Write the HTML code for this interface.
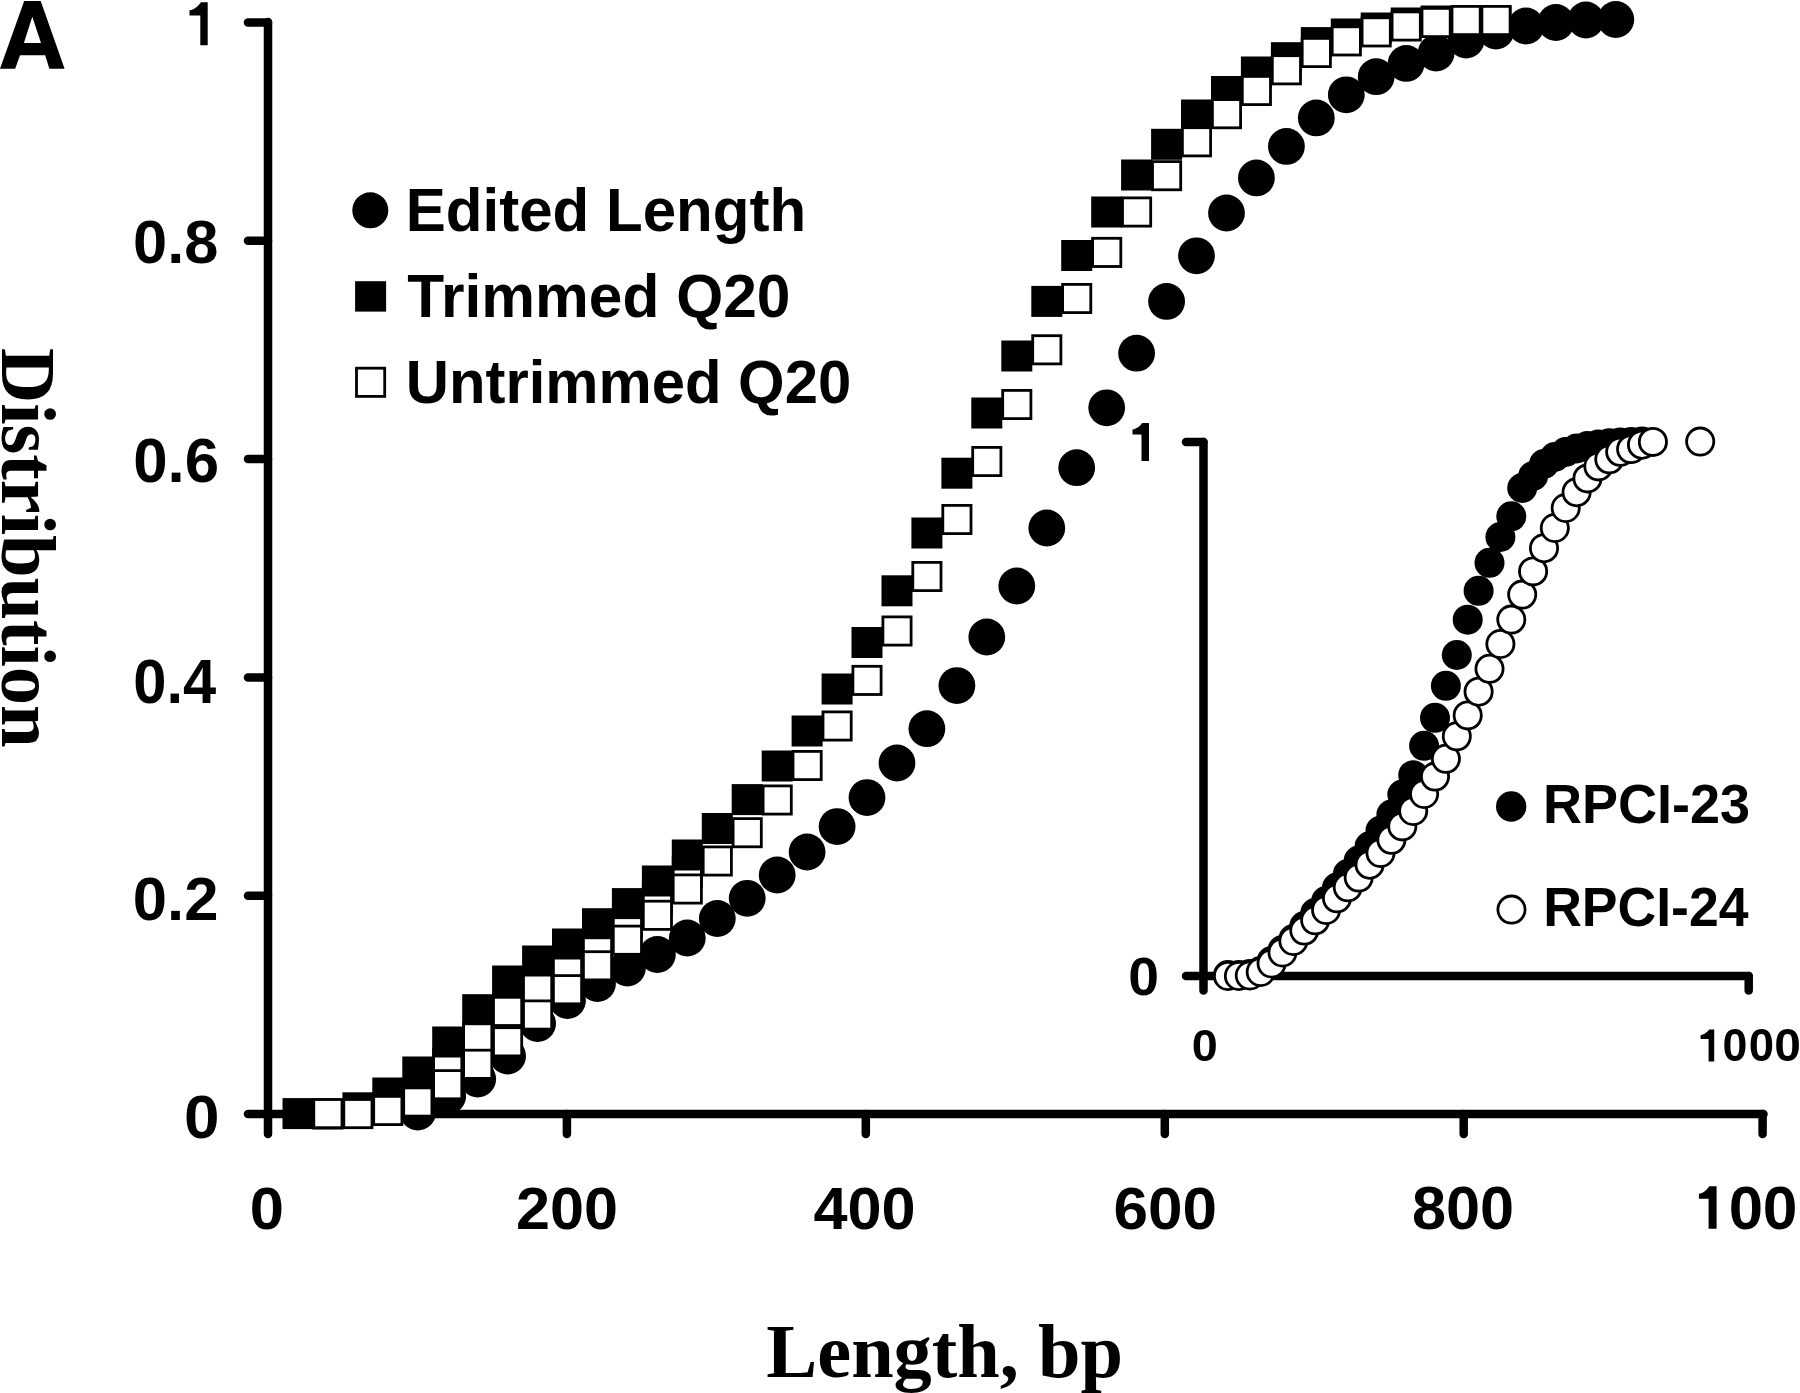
<!DOCTYPE html>
<html><head><meta charset="utf-8"><title>Length distribution</title>
<style>html,body{margin:0;padding:0;background:#fff;overflow:hidden}svg{display:block}text{-webkit-font-smoothing:antialiased}</style></head>
<body><svg style="will-change:transform" width="1800" height="1393" viewBox="0 0 1800 1393">
<rect width="1800" height="1393" fill="#fff"/>
<g stroke="#000" stroke-width="8.5" stroke-linecap="round" fill="none">
<line x1="268" y1="22" x2="268" y2="1134"/>
<line x1="248" y1="1114" x2="1763.5" y2="1114"/>
<line x1="248" y1="895.7" x2="268" y2="895.7"/>
<line x1="248" y1="677.4" x2="268" y2="677.4"/>
<line x1="248" y1="459.1" x2="268" y2="459.1"/>
<line x1="248" y1="240.8" x2="268" y2="240.8"/>
<line x1="248" y1="22.5" x2="268" y2="22.5"/>
<line x1="566.9" y1="1114" x2="566.9" y2="1134"/>
<line x1="865.8" y1="1114" x2="865.8" y2="1134"/>
<line x1="1164.8" y1="1114" x2="1164.8" y2="1134"/>
<line x1="1463.7" y1="1114" x2="1463.7" y2="1134"/>
<line x1="1762.6" y1="1114" x2="1762.6" y2="1134"/>
</g>
<circle cx="417.8" cy="1112.0" r="18.4"/>
<circle cx="447.7" cy="1096.0" r="18.4"/>
<circle cx="477.7" cy="1079.0" r="18.4"/>
<circle cx="507.6" cy="1056.0" r="18.4"/>
<circle cx="537.6" cy="1023.5" r="18.4"/>
<circle cx="567.5" cy="1000.5" r="18.4"/>
<circle cx="597.5" cy="983.5" r="18.4"/>
<circle cx="627.4" cy="968.0" r="18.4"/>
<circle cx="657.4" cy="954.5" r="18.4"/>
<circle cx="687.3" cy="938.0" r="18.4"/>
<circle cx="717.3" cy="918.5" r="18.4"/>
<circle cx="747.2" cy="898.3" r="18.4"/>
<circle cx="777.2" cy="875.0" r="18.4"/>
<circle cx="807.1" cy="852.0" r="18.4"/>
<circle cx="837.1" cy="826.6" r="18.4"/>
<circle cx="867.0" cy="797.6" r="18.4"/>
<circle cx="897.0" cy="763.0" r="18.4"/>
<circle cx="926.9" cy="728.7" r="18.4"/>
<circle cx="956.9" cy="685.6" r="18.4"/>
<circle cx="986.8" cy="637.0" r="18.4"/>
<circle cx="1016.8" cy="586.0" r="18.4"/>
<circle cx="1046.8" cy="528.0" r="18.4"/>
<circle cx="1076.7" cy="467.7" r="18.4"/>
<circle cx="1106.7" cy="407.8" r="18.4"/>
<circle cx="1136.6" cy="353.2" r="18.4"/>
<circle cx="1166.6" cy="301.4" r="18.4"/>
<circle cx="1196.5" cy="255.8" r="18.4"/>
<circle cx="1226.5" cy="213.0" r="18.4"/>
<circle cx="1256.4" cy="177.9" r="18.4"/>
<circle cx="1286.4" cy="146.4" r="18.4"/>
<circle cx="1316.3" cy="117.9" r="18.4"/>
<circle cx="1346.3" cy="94.8" r="18.4"/>
<circle cx="1376.2" cy="76.7" r="18.4"/>
<circle cx="1406.2" cy="63.4" r="18.4"/>
<circle cx="1436.1" cy="53.0" r="18.4"/>
<circle cx="1466.1" cy="40.0" r="18.4"/>
<circle cx="1496.0" cy="31.0" r="18.4"/>
<circle cx="1526.0" cy="26.0" r="18.4"/>
<circle cx="1555.9" cy="22.5" r="18.4"/>
<circle cx="1585.9" cy="20.0" r="18.4"/>
<circle cx="1615.8" cy="19.5" r="18.4"/>
<rect x="433.6" y="1049.2" width="28.2" height="28.2" fill="#fff" stroke="#000" stroke-width="2.8"/>
<rect x="463.6" y="1022.9" width="28.2" height="28.2" fill="#fff" stroke="#000" stroke-width="2.8"/>
<rect x="493.5" y="997.3" width="28.2" height="28.2" fill="#fff" stroke="#000" stroke-width="2.8"/>
<rect x="523.5" y="973.9" width="28.2" height="28.2" fill="#fff" stroke="#000" stroke-width="2.8"/>
<rect x="553.4" y="952.8" width="28.2" height="28.2" fill="#fff" stroke="#000" stroke-width="2.8"/>
<rect x="583.4" y="930.6" width="28.2" height="28.2" fill="#fff" stroke="#000" stroke-width="2.8"/>
<rect x="613.3" y="907.8" width="28.2" height="28.2" fill="#fff" stroke="#000" stroke-width="2.8"/>
<rect x="643.3" y="884.0" width="28.2" height="28.2" fill="#fff" stroke="#000" stroke-width="2.8"/>
<rect x="673.2" y="857.9" width="28.2" height="28.2" fill="#fff" stroke="#000" stroke-width="2.8"/>
<rect x="282.5" y="1098.1" width="31.0" height="31.0"/>
<rect x="312.4" y="1098.5" width="31.0" height="31.0"/>
<rect x="342.4" y="1092.3" width="31.0" height="31.0"/>
<rect x="372.3" y="1077.5" width="31.0" height="31.0"/>
<rect x="402.3" y="1056.5" width="31.0" height="31.0"/>
<rect x="432.2" y="1026.5" width="31.0" height="31.0"/>
<rect x="462.2" y="994.2" width="31.0" height="31.0"/>
<rect x="492.1" y="965.5" width="31.0" height="31.0"/>
<rect x="522.1" y="945.5" width="31.0" height="31.0"/>
<rect x="552.0" y="928.5" width="31.0" height="31.0"/>
<rect x="582.0" y="908.2" width="31.0" height="31.0"/>
<rect x="611.9" y="888.1" width="31.0" height="31.0"/>
<rect x="641.9" y="865.5" width="31.0" height="31.0"/>
<rect x="671.8" y="839.5" width="31.0" height="31.0"/>
<rect x="701.8" y="813.0" width="31.0" height="31.0"/>
<rect x="731.7" y="784.1" width="31.0" height="31.0"/>
<rect x="761.7" y="750.5" width="31.0" height="31.0"/>
<rect x="791.6" y="715.5" width="31.0" height="31.0"/>
<rect x="821.6" y="673.5" width="31.0" height="31.0"/>
<rect x="851.5" y="627.0" width="31.0" height="31.0"/>
<rect x="881.5" y="575.3" width="31.0" height="31.0"/>
<rect x="911.4" y="517.5" width="31.0" height="31.0"/>
<rect x="941.4" y="457.7" width="31.0" height="31.0"/>
<rect x="971.3" y="397.5" width="31.0" height="31.0"/>
<rect x="1001.3" y="340.5" width="31.0" height="31.0"/>
<rect x="1031.3" y="285.9" width="31.0" height="31.0"/>
<rect x="1061.2" y="240.0" width="31.0" height="31.0"/>
<rect x="1091.2" y="196.5" width="31.0" height="31.0"/>
<rect x="1121.1" y="159.5" width="31.0" height="31.0"/>
<rect x="1151.1" y="128.8" width="31.0" height="31.0"/>
<rect x="1181.0" y="99.5" width="31.0" height="31.0"/>
<rect x="1211.0" y="76.0" width="31.0" height="31.0"/>
<rect x="1240.9" y="56.5" width="31.0" height="31.0"/>
<rect x="1270.9" y="42.2" width="31.0" height="31.0"/>
<rect x="1300.8" y="27.1" width="31.0" height="31.0"/>
<rect x="1330.8" y="18.5" width="31.0" height="31.0"/>
<rect x="1360.7" y="12.5" width="31.0" height="31.0"/>
<rect x="1390.7" y="7.5" width="31.0" height="31.0"/>
<rect x="1420.6" y="5.5" width="31.0" height="31.0"/>
<rect x="1450.6" y="5.5" width="31.0" height="31.0"/>
<rect x="1480.5" y="5.5" width="31.0" height="31.0"/>
<rect x="313.8" y="1099.5" width="28.2" height="28.2" fill="#fff" stroke="#000" stroke-width="2.8"/>
<rect x="343.8" y="1099.5" width="28.2" height="28.2" fill="#fff" stroke="#000" stroke-width="2.8"/>
<rect x="373.7" y="1096.4" width="28.2" height="28.2" fill="#fff" stroke="#000" stroke-width="2.8"/>
<rect x="403.7" y="1087.9" width="28.2" height="28.2" fill="#fff" stroke="#000" stroke-width="2.8"/>
<rect x="433.6" y="1070.6" width="28.2" height="28.2" fill="#fff" stroke="#000" stroke-width="2.8"/>
<rect x="463.6" y="1050.2" width="28.2" height="28.2" fill="#fff" stroke="#000" stroke-width="2.8"/>
<rect x="493.5" y="1027.7" width="28.2" height="28.2" fill="#fff" stroke="#000" stroke-width="2.8"/>
<rect x="523.5" y="1000.9" width="28.2" height="28.2" fill="#fff" stroke="#000" stroke-width="2.8"/>
<rect x="553.4" y="975.6" width="28.2" height="28.2" fill="#fff" stroke="#000" stroke-width="2.8"/>
<rect x="583.4" y="951.7" width="28.2" height="28.2" fill="#fff" stroke="#000" stroke-width="2.8"/>
<rect x="613.3" y="926.1" width="28.2" height="28.2" fill="#fff" stroke="#000" stroke-width="2.8"/>
<rect x="643.3" y="901.2" width="28.2" height="28.2" fill="#fff" stroke="#000" stroke-width="2.8"/>
<rect x="673.2" y="874.9" width="28.2" height="28.2" fill="#fff" stroke="#000" stroke-width="2.8"/>
<rect x="703.2" y="846.9" width="28.2" height="28.2" fill="#fff" stroke="#000" stroke-width="2.8"/>
<rect x="733.1" y="818.6" width="28.2" height="28.2" fill="#fff" stroke="#000" stroke-width="2.8"/>
<rect x="763.1" y="785.9" width="28.2" height="28.2" fill="#fff" stroke="#000" stroke-width="2.8"/>
<rect x="793.0" y="751.4" width="28.2" height="28.2" fill="#fff" stroke="#000" stroke-width="2.8"/>
<rect x="823.0" y="711.9" width="28.2" height="28.2" fill="#fff" stroke="#000" stroke-width="2.8"/>
<rect x="852.9" y="666.3" width="28.2" height="28.2" fill="#fff" stroke="#000" stroke-width="2.8"/>
<rect x="882.9" y="616.9" width="28.2" height="28.2" fill="#fff" stroke="#000" stroke-width="2.8"/>
<rect x="912.8" y="562.4" width="28.2" height="28.2" fill="#fff" stroke="#000" stroke-width="2.8"/>
<rect x="942.8" y="505.4" width="28.2" height="28.2" fill="#fff" stroke="#000" stroke-width="2.8"/>
<rect x="972.7" y="447.4" width="28.2" height="28.2" fill="#fff" stroke="#000" stroke-width="2.8"/>
<rect x="1002.7" y="390.4" width="28.2" height="28.2" fill="#fff" stroke="#000" stroke-width="2.8"/>
<rect x="1032.7" y="335.7" width="28.2" height="28.2" fill="#fff" stroke="#000" stroke-width="2.8"/>
<rect x="1062.6" y="284.4" width="28.2" height="28.2" fill="#fff" stroke="#000" stroke-width="2.8"/>
<rect x="1092.6" y="238.3" width="28.2" height="28.2" fill="#fff" stroke="#000" stroke-width="2.8"/>
<rect x="1122.5" y="197.9" width="28.2" height="28.2" fill="#fff" stroke="#000" stroke-width="2.8"/>
<rect x="1152.5" y="161.6" width="28.2" height="28.2" fill="#fff" stroke="#000" stroke-width="2.8"/>
<rect x="1182.4" y="127.7" width="28.2" height="28.2" fill="#fff" stroke="#000" stroke-width="2.8"/>
<rect x="1212.4" y="99.6" width="28.2" height="28.2" fill="#fff" stroke="#000" stroke-width="2.8"/>
<rect x="1242.3" y="76.4" width="28.2" height="28.2" fill="#fff" stroke="#000" stroke-width="2.8"/>
<rect x="1272.3" y="55.7" width="28.2" height="28.2" fill="#fff" stroke="#000" stroke-width="2.8"/>
<rect x="1302.2" y="38.4" width="28.2" height="28.2" fill="#fff" stroke="#000" stroke-width="2.8"/>
<rect x="1332.2" y="26.8" width="28.2" height="28.2" fill="#fff" stroke="#000" stroke-width="2.8"/>
<rect x="1362.1" y="17.8" width="28.2" height="28.2" fill="#fff" stroke="#000" stroke-width="2.8"/>
<rect x="1392.1" y="11.9" width="28.2" height="28.2" fill="#fff" stroke="#000" stroke-width="2.8"/>
<rect x="1422.0" y="8.4" width="28.2" height="28.2" fill="#fff" stroke="#000" stroke-width="2.8"/>
<rect x="1452.0" y="6.4" width="28.2" height="28.2" fill="#fff" stroke="#000" stroke-width="2.8"/>
<rect x="1481.9" y="6.4" width="28.2" height="28.2" fill="#fff" stroke="#000" stroke-width="2.8"/>
<g stroke="#000" stroke-width="8.5" stroke-linecap="round" fill="none">
<line x1="1203.5" y1="442" x2="1203.5" y2="990.5"/>
<line x1="1186" y1="976" x2="1748.7" y2="976"/>
<line x1="1186" y1="442" x2="1203.5" y2="442"/>
<line x1="1748.7" y1="976" x2="1748.7" y2="990.5"/>
</g>
<circle cx="1228.0" cy="975.0" r="15"/>
<circle cx="1238.9" cy="975.0" r="15"/>
<circle cx="1249.8" cy="974.0" r="15"/>
<circle cx="1260.7" cy="971.0" r="15"/>
<circle cx="1271.6" cy="961.0" r="15"/>
<circle cx="1282.5" cy="950.0" r="15"/>
<circle cx="1293.4" cy="939.0" r="15"/>
<circle cx="1304.3" cy="926.0" r="15"/>
<circle cx="1315.2" cy="913.0" r="15"/>
<circle cx="1326.1" cy="901.0" r="15"/>
<circle cx="1337.0" cy="887.6" r="15"/>
<circle cx="1347.8" cy="874.1" r="15"/>
<circle cx="1358.7" cy="860.5" r="15"/>
<circle cx="1369.6" cy="846.3" r="15"/>
<circle cx="1380.5" cy="830.7" r="15"/>
<circle cx="1391.4" cy="814.6" r="15"/>
<circle cx="1402.3" cy="794.6" r="15"/>
<circle cx="1413.2" cy="775.2" r="15"/>
<circle cx="1424.1" cy="745.8" r="15"/>
<circle cx="1435.0" cy="717.8" r="15"/>
<circle cx="1445.9" cy="685.8" r="15"/>
<circle cx="1456.8" cy="655.0" r="15"/>
<circle cx="1467.7" cy="619.7" r="15"/>
<circle cx="1478.6" cy="590.8" r="15"/>
<circle cx="1489.5" cy="562.8" r="15"/>
<circle cx="1500.4" cy="537.0" r="15"/>
<circle cx="1511.3" cy="516.3" r="15"/>
<circle cx="1522.2" cy="488.0" r="15"/>
<circle cx="1533.1" cy="476.0" r="15"/>
<circle cx="1544.0" cy="464.0" r="15"/>
<circle cx="1554.8" cy="457.0" r="15"/>
<circle cx="1565.7" cy="452.0" r="15"/>
<circle cx="1576.6" cy="448.5" r="15"/>
<circle cx="1587.5" cy="446.0" r="15"/>
<circle cx="1598.4" cy="444.5" r="15"/>
<circle cx="1609.3" cy="443.3" r="15"/>
<circle cx="1620.2" cy="442.5" r="15"/>
<circle cx="1631.1" cy="442.0" r="15"/>
<circle cx="1642.0" cy="441.6" r="15"/>
<circle cx="1228.0" cy="976.0" r="13.6" fill="#fff" stroke="#000" stroke-width="2.8"/>
<circle cx="1238.9" cy="976.0" r="13.6" fill="#fff" stroke="#000" stroke-width="2.8"/>
<circle cx="1249.8" cy="975.5" r="13.6" fill="#fff" stroke="#000" stroke-width="2.8"/>
<circle cx="1260.7" cy="972.0" r="13.6" fill="#fff" stroke="#000" stroke-width="2.8"/>
<circle cx="1271.6" cy="963.5" r="13.6" fill="#fff" stroke="#000" stroke-width="2.8"/>
<circle cx="1282.5" cy="952.5" r="13.6" fill="#fff" stroke="#000" stroke-width="2.8"/>
<circle cx="1293.4" cy="941.0" r="13.6" fill="#fff" stroke="#000" stroke-width="2.8"/>
<circle cx="1304.3" cy="930.6" r="13.6" fill="#fff" stroke="#000" stroke-width="2.8"/>
<circle cx="1315.2" cy="920.3" r="13.6" fill="#fff" stroke="#000" stroke-width="2.8"/>
<circle cx="1326.1" cy="910.0" r="13.6" fill="#fff" stroke="#000" stroke-width="2.8"/>
<circle cx="1337.0" cy="898.3" r="13.6" fill="#fff" stroke="#000" stroke-width="2.8"/>
<circle cx="1347.8" cy="887.3" r="13.6" fill="#fff" stroke="#000" stroke-width="2.8"/>
<circle cx="1358.7" cy="877.6" r="13.6" fill="#fff" stroke="#000" stroke-width="2.8"/>
<circle cx="1369.6" cy="864.7" r="13.6" fill="#fff" stroke="#000" stroke-width="2.8"/>
<circle cx="1380.5" cy="853.0" r="13.6" fill="#fff" stroke="#000" stroke-width="2.8"/>
<circle cx="1391.4" cy="839.8" r="13.6" fill="#fff" stroke="#000" stroke-width="2.8"/>
<circle cx="1402.3" cy="826.4" r="13.6" fill="#fff" stroke="#000" stroke-width="2.8"/>
<circle cx="1413.2" cy="811.0" r="13.6" fill="#fff" stroke="#000" stroke-width="2.8"/>
<circle cx="1424.1" cy="794.0" r="13.6" fill="#fff" stroke="#000" stroke-width="2.8"/>
<circle cx="1435.0" cy="776.6" r="13.6" fill="#fff" stroke="#000" stroke-width="2.8"/>
<circle cx="1445.9" cy="758.8" r="13.6" fill="#fff" stroke="#000" stroke-width="2.8"/>
<circle cx="1456.8" cy="736.3" r="13.6" fill="#fff" stroke="#000" stroke-width="2.8"/>
<circle cx="1467.7" cy="715.4" r="13.6" fill="#fff" stroke="#000" stroke-width="2.8"/>
<circle cx="1478.6" cy="691.7" r="13.6" fill="#fff" stroke="#000" stroke-width="2.8"/>
<circle cx="1489.5" cy="668.8" r="13.6" fill="#fff" stroke="#000" stroke-width="2.8"/>
<circle cx="1500.4" cy="644.0" r="13.6" fill="#fff" stroke="#000" stroke-width="2.8"/>
<circle cx="1511.3" cy="619.6" r="13.6" fill="#fff" stroke="#000" stroke-width="2.8"/>
<circle cx="1522.2" cy="594.6" r="13.6" fill="#fff" stroke="#000" stroke-width="2.8"/>
<circle cx="1533.1" cy="571.4" r="13.6" fill="#fff" stroke="#000" stroke-width="2.8"/>
<circle cx="1544.0" cy="548.2" r="13.6" fill="#fff" stroke="#000" stroke-width="2.8"/>
<circle cx="1554.8" cy="528.0" r="13.6" fill="#fff" stroke="#000" stroke-width="2.8"/>
<circle cx="1565.7" cy="508.0" r="13.6" fill="#fff" stroke="#000" stroke-width="2.8"/>
<circle cx="1576.6" cy="492.2" r="13.6" fill="#fff" stroke="#000" stroke-width="2.8"/>
<circle cx="1587.5" cy="478.4" r="13.6" fill="#fff" stroke="#000" stroke-width="2.8"/>
<circle cx="1598.4" cy="466.4" r="13.6" fill="#fff" stroke="#000" stroke-width="2.8"/>
<circle cx="1609.3" cy="459.3" r="13.6" fill="#fff" stroke="#000" stroke-width="2.8"/>
<circle cx="1620.2" cy="451.8" r="13.6" fill="#fff" stroke="#000" stroke-width="2.8"/>
<circle cx="1631.1" cy="449.1" r="13.6" fill="#fff" stroke="#000" stroke-width="2.8"/>
<circle cx="1642.0" cy="444.7" r="13.6" fill="#fff" stroke="#000" stroke-width="2.8"/>
<circle cx="1652.9" cy="441.9" r="13.6" fill="#fff" stroke="#000" stroke-width="2.8"/>
<circle cx="1700.2" cy="441.6" r="13.6" fill="#fff" stroke="#000" stroke-width="2.8"/>
<circle cx="370.3" cy="210.3" r="18"/>
<rect x="355.1" y="281.2" width="31" height="30.4"/>
<rect x="356.5" y="368.2" width="28.2" height="28.2" fill="#fff" stroke="#000" stroke-width="2.8"/>
<circle cx="1511.2" cy="806.5" r="15.2"/>
<circle cx="1511.5" cy="909.6" r="13.6" fill="#fff" stroke="#000" stroke-width="2.8"/>
<path fill-rule="evenodd" d="M0,68.8 L24.2,1 L40.7,1 L64.6,68.8 L49.4,68.8 L45.2,55.2 L20,55.2 L15.2,68.8 Z M32.3,16.8 L23.9,43 L41,43 Z"/>
<path d="M207.7,2.2 L207.7,45.2 L200.3,45.2 L200.3,15.5 L189.5,15.5 L189.5,10.3 C194.90,9.65 199.22,5.04 200.90,2.2 Z"/>
<text transform="translate(133.05,262.89) scale(0.6136,0.6056)" font-family="Liberation Sans, sans-serif" font-weight="bold" font-size="100">0.8</text>
<text transform="translate(133.23,481.68) scale(0.6183,0.6239)" font-family="Liberation Sans, sans-serif" font-weight="bold" font-size="100">0.6</text>
<text transform="translate(133.31,702.68) scale(0.5970,0.6239)" font-family="Liberation Sans, sans-serif" font-weight="bold" font-size="100">0.4</text>
<text transform="translate(132.84,920.08) scale(0.6160,0.6155)" font-family="Liberation Sans, sans-serif" font-weight="bold" font-size="100">0.2</text>
<text transform="translate(183.95,1137.89) scale(0.6383,0.6127)" font-family="Liberation Sans, sans-serif" font-weight="bold" font-size="100">0</text>
<text transform="translate(249.74,1229.40) scale(0.6149,0.5986)" font-family="Liberation Sans, sans-serif" font-weight="bold" font-size="100">0</text>
<text transform="translate(515.97,1228.90) scale(0.6113,0.5986)" font-family="Liberation Sans, sans-serif" font-weight="bold" font-size="100">200</text>
<text transform="translate(813.48,1228.91) scale(0.6124,0.5944)" font-family="Liberation Sans, sans-serif" font-weight="bold" font-size="100">400</text>
<text transform="translate(1113.52,1228.91) scale(0.6208,0.5944)" font-family="Liberation Sans, sans-serif" font-weight="bold" font-size="100">600</text>
<text transform="translate(1411.96,1228.89) scale(0.6125,0.6056)" font-family="Liberation Sans, sans-serif" font-weight="bold" font-size="100">800</text>
<path d="M1716.6,1186.2 L1716.6,1228.7 L1708.6,1228.7 L1708.6,1198.7 L1698.9,1198.7 L1698.9,1193.8 C1703.75,1193.19 1707.63,1188.86 1709.20,1186.2 Z"/>
<text transform="translate(1728.83,1228.89) scale(0.6170,0.6056)" font-family="Liberation Sans, sans-serif" font-weight="bold" font-size="100">0</text>
<text transform="translate(1762.71,1228.89) scale(0.6234,0.6056)" font-family="Liberation Sans, sans-serif" font-weight="bold" font-size="100">0</text>
<path d="M1149,423 L1149,461 L1141.5,461 L1141.5,434.5 L1132.5,434.5 L1132.5,429.5 C1137.00,428.98 1140.60,425.27 1142.10,423 Z"/>
<text transform="translate(1128.29,994.96) scale(0.5532,0.5423)" font-family="Liberation Sans, sans-serif" font-weight="bold" font-size="100">0</text>
<text transform="translate(1191.63,1061.05) scale(0.4681,0.4507)" font-family="Liberation Sans, sans-serif" font-weight="bold" font-size="100">0</text>
<path d="M1714.2,1029.6 L1714.2,1061.4 L1708.6,1061.4 L1708.6,1039 L1700.6,1039 L1700.6,1035.2 C1704.60,1034.75 1707.80,1031.56 1709.20,1029.6 Z"/>
<text transform="translate(1722.61,1061.34) scale(0.4468,0.4606)" font-family="Liberation Sans, sans-serif" font-weight="bold" font-size="100">0</text>
<text transform="translate(1748.78,1061.34) scale(0.4553,0.4606)" font-family="Liberation Sans, sans-serif" font-weight="bold" font-size="100">0</text>
<text transform="translate(1774.29,1061.34) scale(0.4787,0.4606)" font-family="Liberation Sans, sans-serif" font-weight="bold" font-size="100">0</text>
<text transform="translate(405.80,231.30) scale(0.6006,0.6174)" font-family="Liberation Sans, sans-serif" font-weight="bold" font-size="100">Edited Length</text>
<text transform="translate(407.30,317.30) scale(0.6049,0.6174)" font-family="Liberation Sans, sans-serif" font-weight="bold" font-size="100">Trimmed Q20</text>
<text transform="translate(405.71,402.60) scale(0.5984,0.6174)" font-family="Liberation Sans, sans-serif" font-weight="bold" font-size="100">Untrimmed Q20</text>
<text transform="translate(1543.12,822.94) scale(0.5399,0.5563)" font-family="Liberation Sans, sans-serif" font-weight="bold" font-size="100">RPCI-23</text>
<text transform="translate(1543.15,926.25) scale(0.5356,0.5549)" font-family="Liberation Sans, sans-serif" font-weight="bold" font-size="100">RPCI-24</text>
<text transform="translate(2.3,347.97) rotate(90) scale(0.765,0.773)" font-family="Liberation Serif, serif" font-weight="bold" font-size="100">Distribution</text>
<text transform="translate(766.27,1376.5) scale(0.764)" font-family="Liberation Serif, serif" font-weight="bold" font-size="100">Length, bp</text>
</svg></body></html>
